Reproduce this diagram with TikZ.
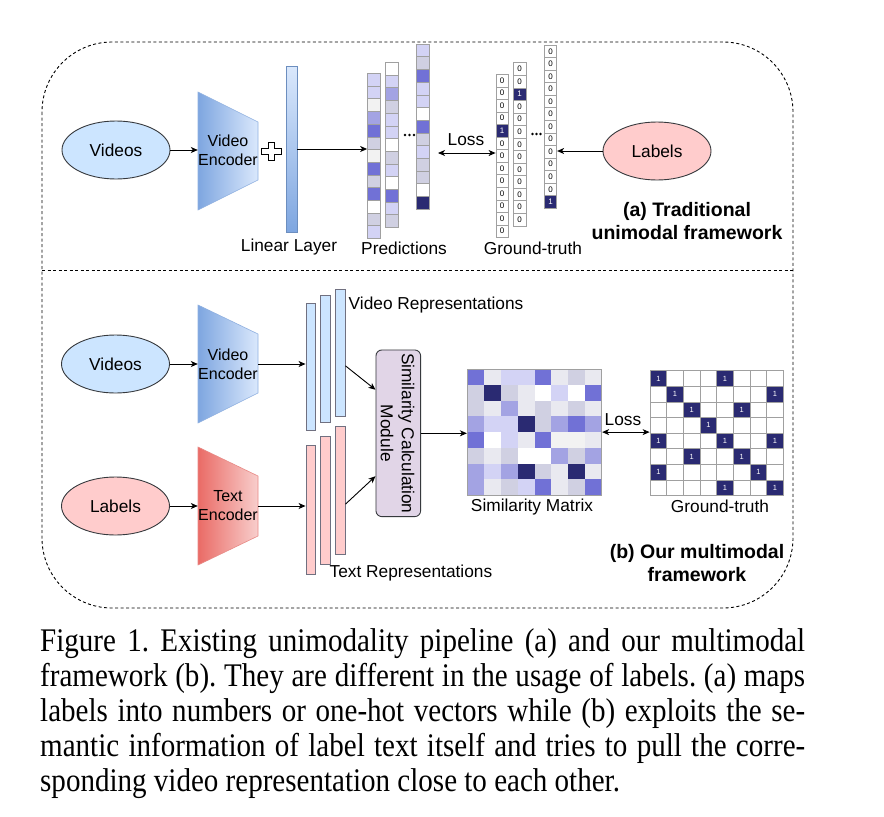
\documentclass[tikz,border=0pt]{standalone}
\usepackage{fontspec}
\setmainfont{Liberation Sans}
\newfontfamily\capfont[FakeStretch=0.88]{Liberation Serif}
\usetikzlibrary{arrows.meta,calc,shapes.geometric}
\definecolor{cL}{HTML}{D3D3F5}
\definecolor{cG}{HTML}{D0D0E2}
\definecolor{cW}{HTML}{F2F2F2}
\definecolor{cWh}{HTML}{FFFFFF}
\definecolor{cM}{HTML}{A3A3E3}
\definecolor{cD}{HTML}{7171D6}
\definecolor{cN}{HTML}{2A2A72}
\definecolor{cE}{HTML}{E9E9F0}
\definecolor{dgray}{HTML}{36393D}
\definecolor{gridc}{HTML}{A0A0A0}
\definecolor{encB1}{HTML}{7EA6E0}
\definecolor{encB2}{HTML}{DAE8FC}
\definecolor{encBd}{HTML}{8FB0E0}
\definecolor{encR1}{HTML}{EA6B66}
\definecolor{encR2}{HTML}{F8CECC}
\definecolor{encRd}{HTML}{E88A86}
\definecolor{linBd}{HTML}{6C8EBF}
\definecolor{blueF}{HTML}{CCE5FF}
\definecolor{redF}{HTML}{FFCCCC}
\definecolor{repBd}{HTML}{707080}
\definecolor{scmF}{HTML}{E1D5E7}
\begin{document}
\begin{tikzpicture}[x=1pt,y=-1pt,
  arr/.style={-{Stealth[length=7pt,width=6pt,inset=2pt]}, line width=0.9pt},
  darr/.style={{Stealth[length=7pt,width=6pt,inset=2pt]}-{Stealth[length=7pt,width=6pt,inset=2pt]}, line width=0.9pt},
  frame/.style={dash pattern=on 3pt off 2.5pt, line width=0.9pt},
  ell/.style={ellipse, draw=dgray, line width=0.9pt, minimum width=108pt, minimum height=58pt, inner sep=0pt, font=\fontsize{17.3}{19}\selectfont},
  lbl/.style={font=\fontsize{17.3}{19}\selectfont, inner sep=0pt},
  enctext/.style={font=\fontsize{16}{19}\selectfont, align=center, inner sep=0pt, minimum width=60pt, minimum height=118pt},
  ttl/.style={font=\bfseries\fontsize{19.5}{23}\selectfont, align=center, inner sep=0pt},
  pcell/.style={draw=gridc, line width=0.6pt, minimum width=13pt, minimum height=12.7pt, inner sep=0pt},
  colbox/.style={draw=gridc, line width=0.7pt, minimum width=13pt, minimum height=165.1pt, inner sep=0pt},
  gcell/.style={draw=gridc, line width=0.6pt, minimum width=12.5pt, minimum height=12.55pt, inner sep=0pt, font=\fontsize{8}{8}\selectfont},
  gcell0/.style={gcell, fill=white, text=black},
  gcell1/.style={gcell, fill=cN, text=white},
  gbox/.style={draw=gridc, line width=0.7pt, minimum width=12.5pt, minimum height=163.2pt, inner sep=0pt},
  mcell/.style={minimum width=16.8pt, minimum height=15.7pt, inner sep=0pt},
  tcell0/.style={draw=gridc, line width=0.6pt, fill=white, minimum width=16.67pt, minimum height=15.6pt, inner sep=0pt},
  tcell1/.style={tcell0, fill=cN, text=white, font=\fontsize{7.5}{8}\selectfont},
  rep/.style={draw=repBd, line width=0.8pt, minimum width=9.7pt, inner sep=0pt},
  dot/.style={circle, fill=black, inner sep=0pt, minimum size=2.6pt}
]
\useasboundingbox (0,0) rectangle (884,817);
\fill[white] (0,0) rectangle (884,817);

% frame
\draw[frame, rounded corners=70pt] (42,42) rectangle (793,608);
\draw[frame] (42,270) -- (793,270);

% ---------------- (a) ----------------
\node[ell, fill=blueF] (vid) at (116,150) {Videos};
\shadedraw[left color=encB1, right color=encB2, draw=encBd, line width=0.6pt]
  (198,92) -- (258,122) -- (258,180) -- (198,210) -- cycle;
\node[enctext] (venc) at (228,150) {Video\\Encoder};
\draw[arr] (vid.east) -- (vid.east -| venc.west);

% plus sign
\draw[fill=white, line width=0.8pt] (268,142) -- (274,142) -- (274,148) -- (281,148) -- (281,154) -- (274,154) -- (274,160) -- (268,160) -- (268,154) -- (261,154) -- (261,148) -- (268,148) -- cycle;

\node[draw=linBd, top color=encB2, bottom color=encB1, line width=0.6pt, minimum width=11pt, minimum height=166pt, inner sep=0pt] (lin) at (291.5,149) {};
\node[lbl] (linl) at (289,247) {Linear Layer};

% predictions
\foreach \c [count=\i] in {L,L,W,M,D,G,W,D,G,D,Wh,G,L}
  \node[pcell, fill=c\c] at (374,{73.3+\i*12.7-6.35}) {};
\node[colbox] (p1) at (374,155.85) {};
\foreach \c [count=\i] in {Wh,L,M,G,L,L,Wh,G,L,Wh,D,L,G}
  \node[pcell, fill=c\c] at (392,{62.3+\i*12.7-6.35}) {};
\node[colbox] (p2) at (392,144.85) {};
\foreach \c [count=\i] in {L,G,D,L,L,Wh,D,G,L,G,G,Wh,N}
  \node[pcell, fill=c\c] at (423,{44+\i*12.7-6.35}) {};
\node[colbox] (p3) at (423,126.55) {};
\node[dot] (pd1) at (405,135) {};
\node[dot] (pd2) at (409.5,135) {};
\node[dot] (pd3) at (414,135) {};
\draw[arr] (lin.east) -- (lin.east -| p1.west);
\node[lbl] (predl) at (404,248) {Predictions};

% ground-truth one-hot
\foreach \v [count=\i] in {0,0,0,0,1,0,0,0,0,0,0,0,0}
  \node[gcell\v] at (502.2,{74.3+\i*12.55-6.275}) {\v};
\node[gbox] (gA) at (502.2,155.9) {};
\foreach \v [count=\i] in {0,0,1,0,0,0,0,0,0,0,0,0,0}
  \node[gcell\v] at (519.7,{62.7+\i*12.55-6.275}) {\v};
\node[gbox] (gB) at (519.7,144.3) {};
\foreach \v [count=\i] in {0,0,0,0,0,0,0,0,0,0,0,0,1}
  \node[gcell\v] at (550.5,{45+\i*12.55-6.275}) {\v};
\node[gbox] (gC) at (550.5,126.6) {};
\node[dot] (gd1) at (532.5,134) {};
\node[dot] (gd2) at (536.5,134) {};
\node[dot] (gd3) at (540.5,134) {};
\node[lbl] (gtl) at (533,248) {Ground-truth};

\coordinate (lossA) at (438,153);
\draw[darr] (lossA) -- (lossA -| gA.west);
\node[lbl] (lossAt) at (466,140) {Loss};

\node[ell, fill=redF] (lab) at (657,151) {Labels};
\draw[arr] (lab.west) -- (lab.west -| gC.east);
\node[ttl] (ttla) at (687,221.5) {(a) Traditional\\unimodal framework};

% ---------------- (b) ----------------
\node[ell, fill=blueF] (vid2) at (115.5,364) {Videos};
\shadedraw[left color=encB1, right color=encB2, draw=encBd, line width=0.6pt]
  (198,305) -- (258,334) -- (258,393) -- (198,423) -- cycle;
\node[enctext] (venc2) at (228,364) {Video\\Encoder};
\draw[arr] (vid2.east) -- (vid2.east -| venc2.west);

\node[ell, fill=redF] (lab2) at (115.5,506) {Labels};
\shadedraw[left color=encR1, right color=encR2, draw=encRd, line width=0.6pt]
  (198,447) -- (258,476) -- (258,536) -- (198,565) -- cycle;
\node[enctext] (tenc) at (228,506) {Text\\Encoder};
\draw[arr] (lab2.east) -- (lab2.east -| tenc.west);

\node[rep, fill=blueF, minimum height=127.4pt] (vr1) at (310.8,367) {};
\node[rep, fill=blueF, minimum height=127.7pt] (vr2) at (325.5,358.9) {};
\node[rep, fill=blueF, minimum height=127.4pt] (vr3) at (340.2,353) {};
\node[rep, fill=redF, minimum height=128.3pt] (tr1) at (310.8,509.9) {};
\node[rep, fill=redF, minimum height=128pt] (tr2) at (325.5,500) {};
\node[rep, fill=redF, minimum height=128pt] (tr3) at (340.2,490) {};
\draw[arr] (venc2.east) -- (venc2.east -| vr1.west);
\draw[arr] (tenc.east) -- (tenc.east -| tr1.west);
\node[lbl, anchor=west] (vrl) at (348.5,305) {Video Representations};
\node[lbl, anchor=west] (trl) at (329.5,573) {Text Representations};

\node[draw=dgray, fill=scmF, rounded corners=6pt, line width=0.9pt, minimum width=44.7pt, minimum height=166.7pt, inner sep=0pt] (scm) at (398.3,433.3) {};
\node[lbl, rotate=-90, align=center, font=\fontsize{17.3}{21}\selectfont] (scmt) at (397.5,433.3) {Similarity Calculation\\Module};
\draw[arr] ($(vr3.south east)!0.4!(vr3.north east)$) -- ($(scm.south west)!0.76!(scm.north west)$);
\draw[arr] ($(tr3.south east)!0.39!(tr3.north east)$) -- ($(scm.south west)!0.244!(scm.north west)$);

% similarity matrix
\foreach \row [count=\r] in {{D,E,L,L,D,E,G,E},{G,N,G,E,Wh,L,Wh,D},{G,E,M,E,G,E,G,E},{M,L,L,N,G,M,D,M},{D,Wh,L,E,D,W,W,E},{G,E,G,Wh,Wh,M,G,M},{M,L,M,N,G,E,N,E},{M,E,G,L,D,E,G,D}}
  \foreach \c [count=\k] in \row
    \node[mcell, fill=c\c] at ({467.3+\k*16.8-8.4},{369.3+\r*15.7-7.85}) {};
\node[draw=gridc, line width=0.8pt, minimum width=134.4pt, minimum height=125.6pt, inner sep=0pt] (sim) at (534.5,432.1) {};
\draw[arr] (scm.east) -- (scm.east -| sim.west);
\node[lbl] (siml) at (532,507) {Similarity Matrix};

% ground-truth matrix
\foreach \row [count=\r] in {{1,0,0,0,1,0,0,0},{0,1,0,0,0,0,0,1},{0,0,1,0,0,1,0,0},{0,0,0,1,0,0,0,0},{1,0,0,0,1,0,0,1},{0,0,1,0,0,1,0,0},{1,0,0,0,0,0,1,0},{0,0,0,0,1,0,0,1}}
  \foreach \v [count=\k] in \row
    \node[tcell\v] at ({650+\k*16.67-8.335},{370.7+\r*15.6-7.8}) {\ifnum\v=1 1\fi};
\node[draw=gridc, line width=0.8pt, minimum width=133.4pt, minimum height=124.8pt, inner sep=0pt] (gtm) at (716.7,433.1) {};
\draw[darr] (sim.east) -- (sim.east -| gtm.west);
\node[lbl] (lossBt) at (623,420) {Loss};
\node[lbl] (gtml) at (720,506) {Ground-truth};
\node[ttl] (ttlb) at (697,563.5) {(b) Our multimodal\\framework};

% caption
\node[anchor=north west, inner sep=0pt, align=left, font=\capfont\fontsize{33}{35}\selectfont\frenchspacing] (cap) at (40,628) {%
\makebox[765pt][s]{Figure 1. Existing unimodality pipeline (a) and our multimodal}\\
\makebox[765pt][s]{framework (b). They are different in the usage of labels. (a) maps}\\
\makebox[765pt][s]{labels into numbers or one-hot vectors while (b) exploits the se-}\\
\makebox[765pt][s]{mantic information of label text itself and tries to pull the corre-}\\
sponding video representation close to each other.};
\end{tikzpicture}
\end{document}
